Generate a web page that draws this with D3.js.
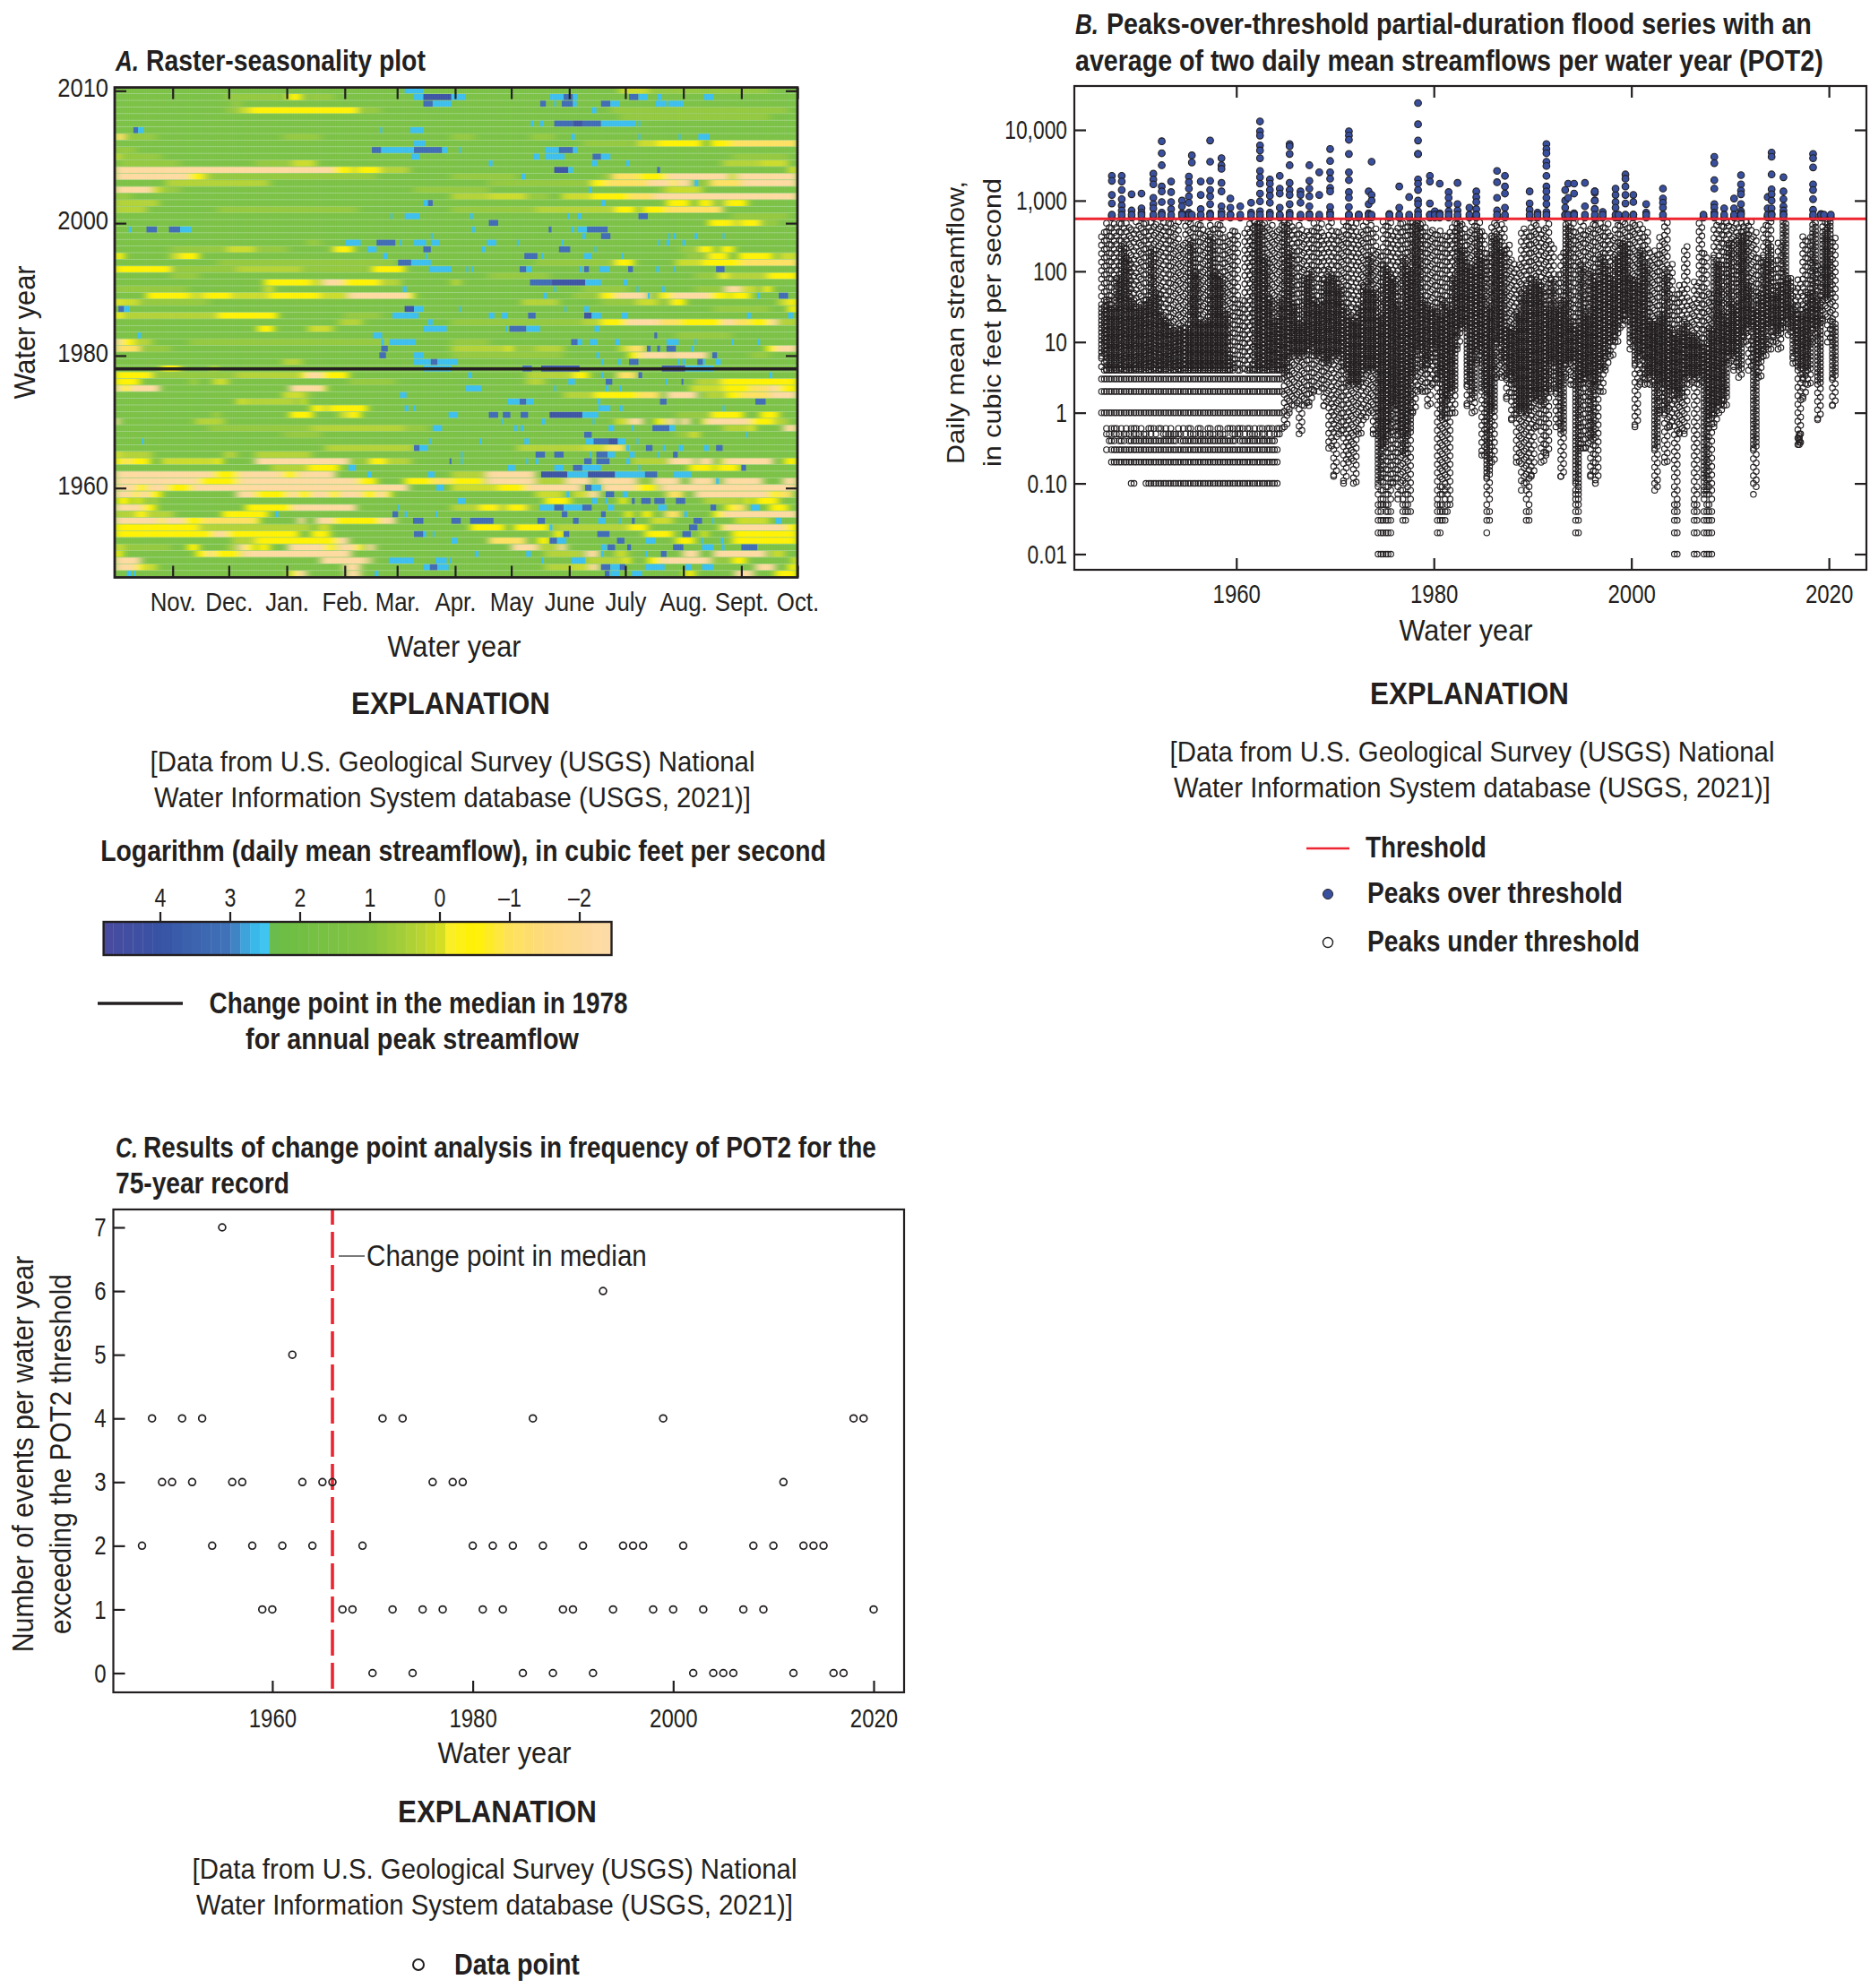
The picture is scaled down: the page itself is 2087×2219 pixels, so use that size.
<!DOCTYPE html>
<html><head><meta charset="utf-8">
<script src="https://cdn.jsdelivr.net/npm/d3@7/dist/d3.min.js"></script>
<style>html,body{margin:0;background:#fff}svg{display:block}</style></head>
<body><svg id="c" width="2087" height="2219"></svg>
<script>
// ---------- Panel A data: one string per water year, top row first. "start-end+level", in 5-day columns; unlisted = typical green
const rasterYears = d3.range(2020, 1946, -1);
const rasterRows = [
"31-33c 54-57n 57-70l",
"12-18l 18.5-20y 20.5-23.5l 32-33c 33-36d 36-37.5c 46.5-48c 48-49b 49-49.5c 55-56b 56-57c 58-58.5c 63-64c",
"12.5-13.5l 33-34b 34-36c 45.5-46.1b 47-47.2c 47.8-49b 49-49.4c 52-53b 53-54c 57.8-59c 59.2-60.8c",
"12-13.4l 13.4-14.5n 14.5-26y 26-28.4l 51-51.5c 53-72l",
"54-70l",
"44.5-44.8c 45.5-45.8c 47-49b 49-50d 50-52b 52-55.7c 56-56.2c",
"2-2.5b 2.5-3.1c 28.4-28.6c 31.6-33c",
"0-1.1o 1.1-4.5l 18-22l 36-38.5l 44.5-47l 48.8-49.2c 56-56.2c 60.3-60.5c 62.4-63.6c",
"32-33.2c 50-55.4l 55.8-58n 58-62.8y 63.7-66y 66-73o",
"0-2.3l 27.5-28.5b 28.5-32c 32-35b 35-35.6c 36.8-37c 46-47.5c 47.5-49b 49-49.5c",
"0-0.6n 0.6-5l 31.7-32.6c 44.8-45.4c 46-48.1c 51.1-52b 52-53c 66-72l",
"0.5-7l 15-19l 19-21.5n 40-40.4c 51-51.6c 54.7-55c 65-69m 69-72n",
"0-23.5p 23.5-25.3y 25.3-26n 26-28.4y 28.4-31.5m 47-48.5d 48.5-49c 58-58.3b 72-73n",
"0-8p 8-9.5y 9.5-10.2m 10.2-28l 36-43l 43.5-43.9c 52-53.2l 53.2-56o 56-59y 59-65.6p 65.6-66.5n 66.5-73p",
"5.5-16.5m 40-51l 51-52.5y 52.5-57o 57-59.5p 59.5-60y 60-61.7p 62-62.4c 62.4-63.7l 63.7-67o 67-73p",
"0-4p 4-5n 5-7l 32-40l 50.7-51c 58-59l 59-62.8n",
"0-1.8l 36-40m 40-44n 44-46.5l 47.8-51n 51-55y 55-57.6o 57.6-73p",
"0-4.7m 33-33.5c 33.5-34b 52-52.5c 59-61.5y 62.4-63.8y 63.8-65.2l 65.3-67.6y",
"0-3.4m 11-26l 36-45l 45-53.5m 53.5-55.7y 56.4-59y 59-65o",
"29.5-29.7c 31-32.6c 38-38.3c 48.4-48.6c 49.5-49.9c 56-57b 66-72l",
"40-41b 63.5-66y 66-67n 67-69y 69-71l",
"1.5-1.8c 3.4-4.5b 5.8-7b 7-8.2c 38.2-38.5c 46.4-46.7b 48.8-49.1c 49.5-50.5c 50.5-52.7b",
"33.8-34c 50-50.4c 52-53b 59.2-59.4c 59.7-60c 62-62.3c 65-65.2c",
"20.5-22l 24.7-26.3c 28-30b 30.5-30.7c 32-33.3c 33.8-34.7c 39.8-40.8c 43-43.2c 47.8-48c 58.1-58.3c 59-59.3c 60.7-61c",
"6-12l 12-15n 15-18.5l 23-23.5l 23.5-25.5y 27-28c 33-33.8b 39.2-39.6c 47.5-48.7b 51.3-51.5c 60.5-62.5l 62.5-64y 64.8-66.2y",
"0-1y 6-7n 7-9y 28.7-29.2c 33.2-33.4c 43.8-45.2b 45.6-45.8c 50.2-51c 54.2-54.4c 61-63.5l 63.5-65.6y 66.7-70.4y 71-73n",
"11-30l 30.3-31.7b 31.7-33.8c 45-53.5l 53.5-55.5y 60-62.8n 62.8-67y 67-73o",
"0-6y 6-13l 13-20m 20-27l 27.5-31y 33.6-36c 37.6-37.8c 38.2-38.4c 43.3-44b 44-44.6c 49.7-50c 50.2-50.7b 51.8-52.9c 54.9-55.4b 57.9-58.2c 59.7-59.9c 64.3-65.2b",
"6-9l 40-46.5l 62-64.7l 64.7-65.5y 65.5-69.8m 69.8-73y",
"16-21y 21-22.3n 22.3-24.4p 24.4-28.4y 28.4-30.6m 36-37m 44.4-46.7b 46.7-50.3d 50.3-52c 54.4-54.8c",
"0-7.8l 16-17n 30.8-31.2c 47-47.2c 50-55l 55.8-56c 58.5-58.8c 62-65.3l 65.3-67p 67-68.5n 68.5-69.5l 69.5-70.2y",
"3.4-8y 8-9.5n 9.5-10y 10-12.5y 12.5-16.5n 16.5-19.5y 19.5-22y 22-25n 25-31.4p 31.4-32y 45.8-46.2c 49-52l 52-53.6y 53.6-57p 57-57.2c 57.2-58.3l 58.3-59.6y 59.6-63.7p 63.7-65.6y 65.8-68y 68.7-69c 71-72b",
"0-0.5y 0.5-2.6n 2.6-10l 43.5-47.5m 52-55.8l 55.8-58n 58-59.5l 59.5-61y 71-72n 72-73y",
"0.4-1b 1-1.6c 31-32d 32-33c 36.8-37c 48.1-48.3c 50.2-50.7c 64-70l 72-73y",
"0-0.8y 0.8-11m 11-17.4y 24.5-28.5l 29.7-32.5c 40-40.6c 41.4-42c 44.2-45b 50.2-51d 51-52c 54.2-54.9c 67.6-68c 72-72.5c",
"24-26.5m 33.5-34c 36-50l 50-52m 52-54.6y 54.6-58.3p 58.3-60.5o 60.5-65y 65-66.2p 66.2-67.8o 67.8-70y 70-70.8p 70.8-73m",
"15.3-17y 20.7-23.3n 33-35.5c 41.8-42c 42.2-44b 44-45.5c 51.3-51.8c",
"2.4-2.8c 27.6-28.6c 57.7-58b 60-66l",
"0-0.8p 0.8-2.1y 2.1-4m 8-30l 28.5-28.8c 29.4-32.2c 36-40l 48.8-49.5b 49.5-50c 50.8-51.6c 53.5-54c 59-60.3c 62-62.2c 66-66.2c 68.7-69c",
"0-0.4p 0.4-2.7o 2.7-6l 28.5-29.2b 36-42m 42-42.4y 42.4-45l 45-48m 54-55n 55-56.7o 56.9-57.3b 58-58.3b 59-60b 61.6-61.9c 69.7-70.7y 70.7-73p",
"28.3-29b 32-33c 36-48l 51.5-51.8c 55-56.2y 56.2-59.4p 59.5-63.4p 63.9-64.4b 68-70l",
"18-20m 32-33.8c 33.8-34.5b 34.5-36.7c 52-52.3c 53.8-54.1c 55-56b 60.2-60.4c 60.7-61c 62.3-62.9b 62.9-63.1c 64.2-64.8c",
"5-7y 10.5-10.8y 33-36c 43.6-44.6b 45.6-49.7d 58.5-61d 61-64c",
"0-4y 4-13l 13-20m 20-20.5y 20.5-22.2p 22.2-25y 37.8-38.2c 44-49m 49-50.7y 52-52.3c 53.7-55.8o 56-56.4b 70-70.3c",
"0-2.7y 8.3-8.6n 10.5-12.1n 25-30l 44-46m 48.5-49.2c 52.5-53.2b 58.9-59.1c 60.6-60.8b 62-64.8m 64.8-73y",
"0-0.8p 0.8-1.6y 1.6-4.8p 18.7-22.3p 22.3-22.6y 37.5-39.2c 47-47.2c 52.5-52.8c 54-54.2c 61.5-65n 65-68y 68-70o 70-71p 71-73y",
"18-20.3n 20.3-21l 30.5-31.2c 48-51.3m 51.3-54.5y 54.5-56y 56-58.3o 59-62.3p 63-65m 65.3-67y 67-70o 70-73p",
"13-14n 14-19.5m 20-20.4y 42-43.3c 43.3-44b 44-44.8c 51.6-51.9c 58.3-59b 68.5-69.6b",
"21-22.2y 22.2-23n 23-27y 31-31.4c 32-32.2c 51.7-53c 54-54.3c 65-65.2c",
"10.7-11n 18.7-21.2y 24-25n 25-26.3y 35.7-36.7c 40-41b 41.5-42.3b 43.4-44.2b 46.5-50d 50-51.7c 60-63.8l 63.8-67.2y 69-71y",
"0-0.5p 8.6-11.7m 41.3-41.5c 45.6-46c 51.1-51.3c 53.5-55n 55-56.5p 57.8-58.8y 59-60p 60.5-61.5p 62.8-63.2y 63.2-68p 68-70.5y 70.5-72m",
"10-21l 21-31m 31-33.5l 34-35c 42.7-43c 43.4-43.7c 52.8-53.4c 55.3-55.5c 57.5-59.3b 59.3-59.9c 65-68m 68-68.4y 71.5-73p",
"18-22l 50.2-51b 60-61.5l 61.5-62.5n 67.5-67.7c",
"2.9-3.1c 33.6-33.8c 39-39.2c 43.8-44.3c 50.3-51.2c 51.2-52.8b 52.8-53.8d 53.8-54.6c 55.8-56c",
"22.5-32m 32-32.6b 32.6-33.5c 43-50m 50-52.5n 52.5-54.6o 54.7-55c 56.8-57.5b 58.6-58.9c 60.3-60.8c 63-63.5c 64.3-65b",
"0-0.4y 0.4-4m 11.7-13m 15-21m 37-37.2c 45-46b 47-48b 50.8-51c 51.5-52.7b 52.7-53.5c 55-55.6c 58-58.2c 59.7-60.2b",
"0-1y 1-1.7o 1.7-3.8y 5-11n 11-11.5y 15-25p 25-27.3l 27.3-29y 29-31.7m 35.8-36b 37-37.2c 44-44.2c 45-45.3c 50.2-51b 51.5-52.9b 54.7-55.1c 55.3-59.3m 59.3-62p 62.4-64p 64.8-65.2y 65.2-70.4p 71.6-73y",
"16.7-20.7m 20.7-24y 25-25.8c 42-42.8c 47-48c 49-50b 50-52c 56-56.2c 61.4-62y 62-64y 64.3-66.8y 67-67.5b",
"0-10.6p 10.6-13.2y 13.2-18p 18-19.5y 19.5-23.6p 27-27.4c 33.5-34.2c 36-39.7m 39.7-45p 45.6-48.4d 48.4-50.6c 50.6-53.5d 53.5-56.7c 56.7-58b 59.7-61.6c",
"0-9p 9-13.2y 13.2-16p 16-26p 26-28y 31-34y 34-36o 36-39.5y 39.7-45p 45-48.2m 48.2-51p 51.6-55.8p 55.8-57.7l 57.7-60.5p 61.5-64.2p 64.3-64.6c 65-69.3p 71.4-73p",
"0-2.3p 2.3-3.5y 3.5-5.6p 5.6-6.8y 6.8-8.3y 8.3-31.4p 34.4-35.2c 36-41n 41-44y 44-50p 50.3-51b 51-52c 52-55.8p 55.8-58y 58.3-73p",
"0-2p 2-2.6y 2.6-3.7p 3.7-5y 13-15p 15-18.5y 18.5-19.6p 19.6-21y 21-23p 23-24y 24-26.5p 26.5-28y 28-29p 29-29.6y 45-48n 48.3-48.6c 49-50.7n 50.7-51.8p 52.5-53.4b 54.3-54.9c 59-60.8o 62-70p 70-71y 71-72.5o",
"0.3-1.6y 2.1-2.6y 2.9-3.2y 3.9-4.5m 36.7-37.5c 46-48.7y 51-51.6c 52.4-52.7c 54-54.7y 55.3-55.6b 56.3-57.3b 57.7-58.8b 60-61b 63-67m 67.4-68y 68.5-71y",
"0-3p 3-4.4y 14-19y 19-25.8p 30.2-30.4c 36-39m 39-41y 41-42m 42-44y 44-45.4l 45.4-47c 47-48b 48-50c 50-51b 52.7-53.4c 58.1-59c 63.7-64.3b 65.3-66.3y 66.3-67.5o 68-69c 70-72y",
"0-2.3m 2.3-3.4y 3.4-6.3m 11.5-16.4y 17.2-17.5c 29.7-30.3b 31-31.3c 34.3-34.5c 47.8-48.4b 52-52.5b 54.6-55.3y 56.4-57.4y 58.8-60.5o 60.9-61.2c 64-65y 65-73p",
"0-4.8p 4.8-5.3y 5.3-7.5p 7.5-9.4y 9.4-15o 15-15.5y 19.6-20.3p 21.5-23.4p 23.4-28.4y 28.4-30p 31.9-33b 36-37b 38-40.5b 45.2-46b 49-49.6b 51.7-52.5c 53.9-54.1c 55.3-55.6b 57.3-59.7n 61.9-62.8b 63.9-64.1c 66.3-70n 70.7-71.3c",
"0-9y 9-21m 21.7-23n 38-41.7y 42.7-46.4y 46.5-46.8c 47-55m 55-57y 61.4-62.3b 64.7-65.2y 65.2-71.7p 71.7-73y",
"0-10.6y 10.6-12p 12-19.7y 21-23y 32-33b 33-33.3c 34-34.2c 47-48y 48-48.6b 51.6-52.9b 56.7-59.7y 60.7-61.6b 62.8-63.3y 66-73y",
"12.6-15m 15-23.8y 23.8-25p 36-36.6c 40-44o 45.2-46.5y 46.5-47.3b 47.3-48.3c 53.7-54.5b 56.8-57.8c 60-62y 62.7-62.9c 64.8-65.1c 66-73y",
"0-1n 1-6l 7.8-9y 12.2-13m 13.2-14p 14-15y 15.3-16.6y 18.5-22.5p 22.5-23.7y 23.8-25.8p 25.8-26.6y 27-27.8p 42.4-45.2p 45.2-47.5m 47.5-48.3p 52-52.6c 52.7-53.5b 54.8-55.2b 59.7-60.8b 62.8-64c 64.9-65.2c 67-68.7b",
"0-0.8y 8.7-10y 10-10.6p 10.6-13.5y 13.6-25.3p 38.5-38.9c 44-44.5c 46-50m 50.3-51.8p 52-52.3c 53.5-54.8n 56.7-57c 58.4-59b 60.7-62.5p 64-69.7p 70.2-71.6n",
"0-2.8p 22-27p 27.2-27.5p 29.3-32c 34.3-35.5c 35.8-36c 45.6-45.8c 48.8-50.3c 50.3-54.5m 54.5-55.1y 57-58.3y 58.3-63.7p 63.7-65.5l 66-67.5y 72.5-73y",
"0-2.3p 2.3-3y 3-4.5n 24.5-26.3p 33-33.7c 33.7-34.5b 34.5-35.7c 46-49m 49-50.8n 50.8-51.8p 52-53b 53-54c 54-54.6b 56.7-58.8c 61-61.7c 62.8-64c 68.5-70.6p 72-73y",
"1.3-1.8c 2-2.2c 18.7-19.5y 19.5-20.5p 24.7-26.3p 27.8-28.2c 52.4-52.9b 53-54c 55.3-56.4c 61-62y 66.3-68.3p 70.6-73y"
];
const rasterLevelLog = {d:4.1,b:3.3,c:2.6,g:1.6,l:0.8,m:0.35,n:0.08,y:-0.5,o:-1.1,p:-2.2};
const monthNames = ["Nov.","Dec.","Jan.","Feb.","Mar.","Apr.","May","June","July","Aug.","Sept.","Oct."];
const monthDays = [31,61,92,123,151,182,212,243,273,304,335,365];
const rasterTickYears = [2020,2000,1980,1960];
const rasterTickLabels = ["2010","2000","1980","1960"];
const colorStops = [4.83,4.0,3.0,2.75,2.55,2.37,2.36,1.0,0.3,-0.05,-0.06,-0.5,-1.0,-1.5,-2.45];
const colorValues = ["#4a4a9e","#3853a4","#3f74b9","#3fa9e0","#38c5f2","#55c6ea","#6bbd45","#85c441","#b5d334","#d7df23","#f9ed32","#fff200","#fde25a","#fdd97f","#fddbaa"];
const legendTicks = [4,3,2,1,0,-1,-2];

// ---------- Panel B data: half-year columns from 1946.5 = [lowest, dense low, dense high, highest] log10 flow, below threshold
const potStartYear = 1946.5;
const potEnvelope = [
[0,.8,1.5,2.6],[-.5,.5,1.6,2.7],[-.7,.5,1.5,2.7],[-.7,.5,1.9,2.7],[-.7,.4,2.4,2.7],[-.7,.5,2.2,2.7],[-1,.5,1.6,2.6],[-.7,.4,1.5,2.7],[-.7,.4,1.5,2.7],
[-1,.3,1.6,2.7],[-1,.2,2.3,2.7],[-1,.3,1.7,2.7],[-1,.4,1.4,2.7],[-1,.4,1.3,2.7],[-1,.3,1.2,2.7],[-1,.2,1.2,2.7],[-1,.1,1.2,2.4],[-1,.3,1.2,2.7],
[-1,.3,2.4,2.7],[-1,.3,2,2.7],[-1,.3,1.3,2.7],[-1,.3,1.3,2.6],[-1,.3,2.5,2.7],[-1,.3,2,2.7],[-1,.3,1.9,2.7],[-1,.3,1.4,2.5],[-1,.5,.8,2.6],
[-1,.2,.4,2.6],[-1,.2,.3,1.6],[-1,.3,.5,2.6],[-1,.3,.6,2.7],[-1,.4,2.7,2.7],[-1,.5,2.7,2.7],[-1,.3,2.2,2.7],[-1,.2,1.6,2.7],[-1,.2,1.3,2.6],
[-.3,.5,1.6,2.7],[-.2,.5,2.7,2.7],[0,.8,2.3,2.7],[.1,.8,1.5,2.6],[-.3,.8,1.3,2.7],[.1,.8,1.9,2.6],[.1,.9,2,2.6],[.3,.8,1.6,2.7],[.3,.8,1.5,2.7],
[.1,.7,1.9,2.5],[-.5,.7,2,2.7],[-.9,.8,1.9,2.6],[-.3,.8,1.8,2.6],
[-1,.6,1.5,2.7],[-.7,.4,1.4,2.7],[-1,.4,1.3,2.7],[-.3,.4,1.5,2.6],[-.1,.6,1.8,2.7],[0,.6,2.2,2.7],[-.3,.6,1.7,2.6],[-2,-1,1.4,2.3],[-2,-.5,2.1,2.7],
[-2,-.3,2,2.7],[-1,.1,1.9,2.6],[-1.2,-.3,1.5,2.7],[-1.5,-.6,2.2,2.7],[-1.4,-.3,2,2.7],[0,.5,2.7,2.7],[.3,.9,2.7,2.7],[.3,.6,1.6,2.7],[.1,.7,1.5,2.6],
[.4,.9,1.5,2.6],[-1.7,.5,1.4,2.6],[-1.6,-.1,1.6,2.5],[-1.4,.2,1.5,2.6],[0,.3,1.9,2.7],[.9,1.1,2.7,2.7],[1.2,1.2,2.3,2.7],[.1,.4,2.1,2.6],[0,.2,2.1,2.7],
[.7,.9,2.6,2.7],[-.6,.3,2.2,2.6],[-1.7,-.9,1.5,2.3],[-.7,0,2.5,2.7],[.5,1,2.5,2.7],[.5,.7,2.3,2.7],[.2,.5,1.2,2.4],[-.1,.4,1.2,2.2],[-.7,0,1.4,2.1],
[-1.1,0,1.7,2.6],[-1.6,0,1.8,2.6],[-.9,.2,1.9,2.7],[-.2,.2,1.9,2.7],[-.7,.1,1.8,2.6],[-.6,.3,1.5,2.7],[.3,.7,1.9,2.4],[-.2,.3,1.5,2],[-.9,-.3,1.6,2.3],
[.5,.7,2.7,2.7],[.4,.7,1.3,2.7],[-1.7,-1.3,1.2,2.6],[-.5,.4,2.1,2.7],[-.5,.5,1.4,2.6],[-.9,-.4,2,2.7],[-1,.4,1.9,2.7],[.3,.6,2.2,2.7],[.6,.8,2.1,2.7],
[.8,1,1.9,2.5],[1,1.1,2.2,2.7],[1.2,1.3,2.4,2.7],[1.3,1.4,2.4,2.7],[.9,1,1.9,2.7],[-.2,.7,1.9,2.7],[.4,.8,2.3,2.7],[.4,.5,2.1,2.6],[.4,.5,1.3,2.3],
[-1.1,-.5,1.3,2.3],[0,.4,1.4,2.5],[-.7,0,2,2.7],[-.2,.3,1.2,2.1],[-2,.2,1.1,1.7],[-.3,.2,1.2,1.8],[-.3,.5,1.3,2.4],[.4,.5,1.1,1.6],[-2,.5,1.1,1.9],
[.4,.5,1,2.7],[-2,-1.2,.9,2.3],[-2,-.1,1.2,1.7],[-.2,0,2.2,2.7],[0,.1,2.1,2.7],[.1,.2,1.4,2.7],[.7,.8,2.4,2.7],[.6,.8,1.5,2.7],[.5,.6,2.5,2.7],
[1,1.1,2.6,2.7],[.6,1.2,1.8,2.7],[-1.15,-.5,1.5,2.6],[.5,.7,1.7,2.2],[.8,.9,2.2,2.7],[.9,1.2,2.4,2.7],[1,1.1,1.7,2.2],[.9,1.1,1.8,2.4],[1.2,1.3,2.7,2.7],
[1.1,1.2,1.9,1.9],[.7,.8,1.5,1.8],[-.45,.6,1.4,1.9],[.2,.5,1.5,2.5],[.4,.6,1.7,2.5],[1,1.2,2.7,2.7],[-.1,.4,1.6,2.1],[1.3,1.6,2.6,2.7],[1,1.6,2.7,2.7],[.1,.5,1.3,2.5]
];
const potLowCluster = [[2017,-.3],[2017,-.33],[2017,-.36],[2017,-.39],[2017,-.42],[2017,-.45]];
const peakYears = [1947.4,1948.4,1949.4,1950.4,1951.6,1952.45,1953.4,1954.5,1955.2,1955.5,1956.4,1957.35,1958.5,1959.4,1960.4,1961.5,1962.4,1963.4,1964.4,1965.4,1966.5,1967.4,1968.4,1969.5,1971.4,1972.4,1973.4,1973.7,1975.5,1976.5,1977.5,1978.4,1979.6,1980.1,1980.6,1981.5,1982.4,1983.6,1984.3,1986.4,1987.2,1989.7,1990.5,1991.4,1993.3,1993.6,1994.2,1995.3,1996.3,1997.1,1998.4,1998.7,1999.4,2000.2,2001.5,2003.2,2007.3,2008.4,2009.4,2010.4,2011.1,2013.8,2014.2,2015.4,2018.4,2019.2,2019.5,2020.2];
const peakLogs = [
[3.35,3.28,3.08,2.96,2.79],[3.35,3.27,3.15,3.02,2.93,2.86],[3.09,2.86],[3.1,2.89,2.83],[3.38,3.3,3.23,3.04,2.95,2.89],[3.84,3.67,3.5,3.2,3.13,2.98,2.83],[3.27,3.12,2.98,2.88],[3,2.92,2.82],[3.34,3.26,3.17,3.06,2.97,2.83],[3.64,3.54],[3.27,3.08,2.88],[3.85,3.55,3.28,3.15,3.06,2.95,2.82],[3.6,3.5,3.45,3.25,3.13,2.92,2.84],[3.03,2.9,2.8],[2.92],[2.97,2.83],[4.12,3.98,3.92,3.78,3.71,3.6,3.42,3.33,3.24,3.1,2.99,2.85],[3.3,3.24,3.15,3.07,2.97,2.83],[3.35,3.17,3.1,2.9,2.79],[3.8,3.77,3.66,3.5,3.25,3.15,3.08,2.95,2.83],[3.13,3.08,2.97],[3.5,3.28,3.17,3.06,2.92,2.81],[3.4,3.08],[3.73,3.56,3.4,3.31,3.18,3.13,2.91,2.83],[3.98,3.92,3.86,3.66,3.4,3.29,3.12,3.04,2.91,2.8],
[2.8],[3.13,2.95,2.82],[3.55,3.08,3],[2.81],[3.2,2.9],[3.05],[4.38,4.08,3.85,3.66,3.66,3.3,3.24,3.15,3,2.95,2.85],[3.35,3.27,2.96,2.8],[2.85],[3.24,2.82],[3.12,3.04,2.95,2.85],[3.25,2.95,2.86],[2.9],[3.13,3.05,2.98,2.88,2.8],[3.42,3.26,3.04,2.86],[3.35,3.2,3.1,2.9],[3.13,2.96,2.87],[2.83],[3.8,3.73,3.67,3.55,3.49,3.35,3.2,3.13,3.04,2.95,2.84],[3.15,3,2.9,2.8],[3.24,3.04],[3.24,3.1,2.82],[3.25,2.92],[3.13,3.11,3,2.88,2.75,3.13,3,2.88],[2.84],[3.08,3.17,2.98,2.9,2.76],[2.76],[3.37,3.31,3.2,3.08,2.96],[3.08,2.98,2.8],[2.95,2.83],[3.17,3.03,2.97,2.9],[2.77],[3.62,3.53,3.29,3.17,2.95,2.9,2.83],[2.89],[3.03,2.89,2.78],[3.36,3.23,3.14,3.09,2.95,2.85,2.82],[3.05,2.89,2.78],[3.68,3.62,3.37,3.16,3.09,3,2.89,2.81],[3.33,3.13,3.02,2.92,2.86,2.81],[3.66,3.6,3.47,3.23,3.15,3.02,2.87],[2.81]
];
const nearThresholdLogs = [2.76,2.8];
const thresholdFlow = 551;
const potYTicks = [10000,1000,100,10,1,0.1,0.01];
const potYTickLabels = ["10,000","1,000","100","10","1","0.10","0.01"];

// ---------- Panel C data: POT2 events per water year, from 1947
const eventStartYear = 1947;
const eventCounts = [2,4,3,3,4,3,4,2,7,3,3,2,1,1,2,5,3,2,3,3,1,1,2,0,4,1,4,0,1,3,1,3,3,2,1,2,1,2,0,4,2,0,1,1,2,0,6,1,2,2,2,1,4,1,2,0,1,0,0,0,1,2,1,2,3,0,2,2,2,0,0,4,4,1];
const changePointYear = 1966;
const changePointRasterYear = 1978;
const yearTicks = [1960,1980,2000,2020];

// ---------- helpers
const NARROW = "'Liberation Sans Narrow','Arial Narrow','Liberation Sans',sans-serif";
const WIDE = "'Liberation Sans',Arial,sans-serif";
const INK = "#231f20";
const svg = d3.select("#c");
function label(x,y,s,o={}){
  const t = svg.append("text").attr("x",0).attr("y",0).text(s)
    .attr("font-family",o.family||NARROW).attr("font-size",o.size||32)
    .attr("font-weight",o.bold?700:400).attr("font-style",o.italic?"italic":"normal")
    .attr("text-anchor",o.anchor||"start").attr("fill",INK);
  const sx = o.width ? o.width/t.node().getComputedTextLength() : 1;
  t.attr("transform",`translate(${x},${y})`+(o.rotate?` rotate(${o.rotate})`:"")+` scale(${sx},1)`);
  return t;
}
function styleAxis(g,size=30,squeeze=.8,dy=0){
  g.select(".domain").remove();
  g.selectAll(".tick line").attr("stroke",INK).attr("stroke-width",2.2);
  g.selectAll(".tick text").attr("font-family",NARROW).attr("font-size",size).attr("fill",INK)
    .each(function(){ const n=this.getComputedTextLength(); if(n>0){ d3.select(this).attr("textLength",n*squeeze).attr("lengthAdjust","spacingAndGlyphs"); } })
    .attr("transform",`translate(0,${dy})`);
}
const colorOf = d3.scaleLinear().domain(colorStops).range(colorValues).clamp(true);

// ---------- Panel A
const A = {l:128,r:890,t:97.6,b:644.5};
const dayX = d3.scaleLinear().domain([0,365]).range([A.l,A.r]);
const rowY = d3.scaleBand().domain(rasterYears).range([A.t,A.b]);
const defs = svg.append("defs");
defs.append("clipPath").attr("id","clipA").append("rect").attr("x",A.l).attr("y",A.t).attr("width",A.r-A.l).attr("height",A.b-A.t);
defs.append("filter").attr("id","soft").attr("filterUnits","userSpaceOnUse").attr("x",A.l-30).attr("y",A.t-10).attr("width",A.r-A.l+60).attr("height",A.b-A.t+20)
  .append("feGaussianBlur").attr("stdDeviation","4 0");
const gA = svg.append("g").attr("clip-path","url(#clipA)");
gA.append("rect").attr("x",A.l).attr("y",A.t).attr("width",A.r-A.l).attr("height",A.b-A.t).attr("fill","#96ce7a");
gA.selectAll("rect.row").data(rasterYears).join("rect").attr("class","row")
  .attr("x",A.l).attr("width",A.r-A.l).attr("y",d=>rowY(d)).attr("height",rowY.bandwidth()-.7)
  .attr("fill",colorOf(rasterLevelLog.g));
const segs = [];
rasterRows.forEach((s,i)=>s.split(" ").forEach(p=>{
  const m = p.match(/^([\d.]+)-([\d.]+)([a-z])$/);
  if(m) segs.push({year:rasterYears[i],d0:+m[1]*5,d1:+m[2]*5,level:m[3]});
}));
const isBlue = d=>"dbc".includes(d.level);
const drawSegs = (g,data)=>g.selectAll("rect").data(data).join("rect")
  .attr("x",d=>dayX(d.d0)).attr("width",d=>dayX(d.d1)-dayX(d.d0))
  .attr("y",d=>rowY(d.year)).attr("height",rowY.bandwidth()-.7)
  .attr("fill",d=>colorOf(rasterLevelLog[d.level]));
drawSegs(gA.append("g").attr("filter","url(#soft)"),segs.filter(d=>!isBlue(d)));
drawSegs(gA.append("g"),segs.filter(isBlue));
gA.append("g").selectAll("rect").data(rasterYears).join("rect")
  .attr("x",A.l).attr("width",A.r-A.l).attr("y",d=>rowY(d)+rowY.bandwidth()-.7).attr("height",.7)
  .attr("fill","#fff").attr("fill-opacity",.18);
gA.selectAll("line.day").data(d3.range(1,365)).join("line").attr("class","day")
  .attr("x1",d=>dayX(d)).attr("x2",d=>dayX(d)).attr("y1",A.t).attr("y2",A.b)
  .attr("stroke","#fff").attr("stroke-opacity",.09).attr("stroke-width",.7);
const rowTickY = d3.scalePoint().domain(rasterYears).range([A.t+rowY.bandwidth()/2,A.b-rowY.bandwidth()/2]);
const ax = (g,axis,o={})=>{ g.call(axis); styleAxis(g,o.size,o.squeeze,o.dy); return g; };
ax(svg.append("g").attr("transform",`translate(0,${A.b})`),
   d3.axisBottom(dayX).tickValues(monthDays).tickSizeInner(-13).tickSizeOuter(0).tickPadding(16).tickFormat((d,i)=>monthNames[i]),{squeeze:.86});
ax(svg.append("g").attr("transform",`translate(0,${A.t})`),
   d3.axisTop(dayX).tickValues(monthDays).tickSizeInner(-13).tickSizeOuter(0).tickFormat(""));
ax(svg.append("g").attr("transform",`translate(${A.l},0)`),
   d3.axisLeft(rowTickY).tickValues(rasterTickYears).tickSizeInner(-13).tickSizeOuter(0).tickPadding(7).tickFormat((d,i)=>rasterTickLabels[i]),{dy:-3,squeeze:.85});
ax(svg.append("g").attr("transform",`translate(${A.r},0)`),
   d3.axisRight(rowTickY).tickValues(rasterTickYears).tickSizeInner(-13).tickSizeOuter(0).tickFormat(""));
svg.append("line").attr("x1",A.l).attr("x2",A.r).attr("y1",rowTickY(changePointRasterYear)).attr("y2",rowTickY(changePointRasterYear)).attr("stroke",INK).attr("stroke-width",3.6);
svg.append("rect").attr("x",A.l).attr("y",A.t).attr("width",A.r-A.l).attr("height",A.b-A.t).attr("fill","none").attr("stroke",INK).attr("stroke-width",2.8);

label(129,79,"A.",{bold:true,italic:true,size:32,family:WIDE,width:26});
label(163,79,"Raster-seasonality plot",{bold:true,size:33,width:312});
label(39,371,"Water year",{rotate:-90,anchor:"middle",size:34,width:149});
label(507,733,"Water year",{anchor:"middle",size:34,width:149});
label(503,797,"EXPLANATION",{anchor:"middle",bold:true,size:35,width:222});
label(505,861,"[Data from U.S. Geological Survey (USGS) National",{anchor:"middle",width:675});
label(505,901,"Water Information System database (USGS, 2021)]",{anchor:"middle",width:666});
label(517,961,"Logarithm (daily mean streamflow), in cubic feet per second",{anchor:"middle",bold:true,size:33,width:810});

// colour bar legend
const legX = d3.scaleLinear().domain([4,-2]).range([178.5,646.5]);
const B0 = {l:115.6,r:682.5,t:1029,b:1066};
const cellEdges = d3.range(53).map(i=>B0.l+(B0.r-B0.l)*i/52);
svg.append("g").selectAll("rect").data(d3.range(52)).join("rect")
  .attr("x",i=>cellEdges[i]).attr("width",i=>cellEdges[i+1]-cellEdges[i]+.3)
  .attr("y",B0.t).attr("height",B0.b-B0.t)
  .attr("fill",i=>colorOf(legX.invert((cellEdges[i]+cellEdges[i+1])/2)));
ax(svg.append("g").attr("transform",`translate(0,${B0.t})`),
   d3.axisTop(legX).tickValues(legendTicks).tickSizeInner(11).tickSizeOuter(0).tickPadding(6).tickFormat(d=>d<0?"–"+(-d):d),{size:29});
svg.append("rect").attr("x",B0.l).attr("y",B0.t).attr("width",B0.r-B0.l).attr("height",B0.b-B0.t).attr("fill","none").attr("stroke",INK).attr("stroke-width",2.4);
svg.append("line").attr("x1",109).attr("x2",204).attr("y1",1120).attr("y2",1120).attr("stroke",INK).attr("stroke-width",3.4);
label(467,1131,"Change point in the median in 1978",{anchor:"middle",bold:true,size:33,width:467});
label(460,1171,"for annual peak streamflow",{anchor:"middle",bold:true,size:33,width:372});

// ---------- Panel B
const P = {l:1199,r:2083,t:96,b:636};
const potX = d3.scaleLinear().domain([1943.6,2023.8]).range([P.l,P.r]);
const potY = d3.scaleLog().domain([10000,0.01]).range([145,618.5]);
const potPoints = [], seen = new Set();
function snap(year,log){
  let v = Math.pow(10,log);
  if(v<0.1) v = Math.max(0.01,Math.round(v*100)/100);
  else if(year<1965 && v<1){ v = Math.round(v*10)/10; if(v>0.6) v = 1; }
  else if(year<1965 && v<4) v = Math.round(v);
  return v;
}
potEnvelope.forEach((c,i)=>{
  const year = potStartYear+i*.5, [sl,dl,dh,sh]=c;
  const add=(lg,k)=>{
    const yr = year+(k%2?.14:-.14), v = snap(year,lg), key=yr+"|"+v;
    if(v<thresholdFlow && !seen.has(key)){ seen.add(key); potPoints.push({year:yr,flow:v}); }
  };
  d3.range(dl,dh+.001,.028).forEach((lg,k)=>add(lg,k));
  const off = i%2?0:.03;
  d3.range(dh+off,sh+.001,.06).forEach((lg,k)=>add(lg,k));
  d3.range(dl-off,sl-.001,-.06).forEach((lg,k)=>add(lg,k));
  add(sl,0);
});
potLowCluster.forEach(d=>potPoints.push({year:d[0],flow:Math.pow(10,d[1])}));
const gB = svg.append("g");
gB.selectAll("circle.u").data(potPoints).join("circle").attr("class","u")
  .attr("cx",d=>potX(d.year)).attr("cy",d=>potY(d.flow)).attr("r",3.2)
  .attr("fill","none").attr("stroke",INK).attr("stroke-width",1.15);
const peaks = peakYears.flatMap((y,i)=>(peakLogs[i]||[]).concat(nearThresholdLogs).map(l=>({year:y,flow:Math.pow(10,l)})));
gB.selectAll("circle.p").data(peaks).join("circle").attr("class","p")
  .attr("cx",d=>potX(d.year)).attr("cy",d=>potY(d.flow)).attr("r",3.8)
  .attr("fill","#39509f").attr("stroke",INK).attr("stroke-width",1.1);
svg.append("line").attr("x1",P.l).attr("x2",P.r).attr("y1",potY(thresholdFlow)).attr("y2",potY(thresholdFlow)).attr("stroke","#ed2530").attr("stroke-width",3);
ax(svg.append("g").attr("transform",`translate(0,${P.b})`),
   d3.axisBottom(potX).tickValues(yearTicks).tickSizeInner(-13).tickSizeOuter(0).tickPadding(16).tickFormat(d3.format("d")));
ax(svg.append("g").attr("transform",`translate(0,${P.t})`),
   d3.axisTop(potX).tickValues(yearTicks).tickSizeInner(-13).tickSizeOuter(0).tickFormat(""));
ax(svg.append("g").attr("transform",`translate(${P.l},0)`),
   d3.axisLeft(potY).tickValues(potYTicks).tickSizeInner(-13).tickSizeOuter(0).tickPadding(8).tickFormat((d,i)=>potYTickLabels[i]),{squeeze:.76});
ax(svg.append("g").attr("transform",`translate(${P.r},0)`),
   d3.axisRight(potY).tickValues(potYTicks).tickSizeInner(-13).tickSizeOuter(0).tickFormat(""));
svg.append("rect").attr("x",P.l).attr("y",P.t).attr("width",P.r-P.l).attr("height",P.b-P.t).attr("fill","none").attr("stroke",INK).attr("stroke-width",2.2);

label(1200,38,"B.",{bold:true,italic:true,size:32,family:WIDE,width:26});
label(1235,38,"Peaks-over-threshold partial-duration flood series with an",{bold:true,size:33,width:787});
label(1200,79,"average of two daily mean streamflows per water year (POT2)",{bold:true,size:33,width:835});
label(1076,360,"Daily mean streamflow,",{rotate:-90,anchor:"middle",family:WIDE,size:27,width:316});
label(1117,360,"in cubic feet per second",{rotate:-90,anchor:"middle",family:WIDE,size:27,width:322});
label(1636,715,"Water year",{anchor:"middle",size:34,width:149});
label(1640,786,"EXPLANATION",{anchor:"middle",bold:true,size:35,width:222});
label(1643,850,"[Data from U.S. Geological Survey (USGS) National",{anchor:"middle",width:675});
label(1643,890,"Water Information System database (USGS, 2021)]",{anchor:"middle",width:666});
svg.append("line").attr("x1",1458).attr("x2",1506).attr("y1",947).attr("y2",947).attr("stroke","#ed2530").attr("stroke-width",2.6);
label(1524,957,"Threshold",{bold:true,size:33,width:135});
svg.append("circle").attr("cx",1482).attr("cy",998).attr("r",5.5).attr("fill","#39509f").attr("stroke",INK).attr("stroke-width",1);
label(1526,1008,"Peaks over threshold",{bold:true,size:33,width:285});
svg.append("circle").attr("cx",1482).attr("cy",1052).attr("r",5.5).attr("fill","none").attr("stroke",INK).attr("stroke-width",1.4);
label(1526,1062,"Peaks under threshold",{bold:true,size:33,width:304});

// ---------- Panel C
const C = {l:126.5,r:1009,t:1350,b:1889};
const evX = d3.scaleLinear().domain([1947,2020]).range([158.5,975]);
const evY = d3.scaleLinear().domain([0,7]).range([1867.5,1370]);
ax(svg.append("g").attr("transform",`translate(0,${C.b})`),
   d3.axisBottom(evX).tickValues(yearTicks).tickSizeInner(-13).tickSizeOuter(0).tickPadding(18).tickFormat(d3.format("d")));
ax(svg.append("g").attr("transform",`translate(${C.l},0)`),
   d3.axisLeft(evY).tickValues(d3.range(8)).tickSizeInner(-13).tickSizeOuter(0).tickPadding(8).tickFormat(d3.format("d")));
svg.append("line").attr("x1",evX(changePointYear)).attr("x2",evX(changePointYear)).attr("y1",C.t).attr("y2",C.b)
  .attr("stroke","#ed2530").attr("stroke-width",3.6).attr("stroke-dasharray","29 8").attr("stroke-dashoffset",12);
svg.append("g").selectAll("circle").data(eventCounts).join("circle")
  .attr("cx",(d,i)=>evX(eventStartYear+i)).attr("cy",d=>evY(d)).attr("r",3.9)
  .attr("fill","none").attr("stroke",INK).attr("stroke-width",1.7);
svg.append("rect").attr("x",C.l).attr("y",C.t).attr("width",C.r-C.l).attr("height",C.b-C.t).attr("fill","none").attr("stroke",INK).attr("stroke-width",2.2);
svg.append("line").attr("x1",378).attr("x2",407).attr("y1",1402).attr("y2",1402).attr("stroke",INK).attr("stroke-width",1.2);
label(409,1413,"Change point in median",{size:34,width:313});
label(129,1292,"C.",{bold:true,italic:true,size:32,family:WIDE,width:25});
label(160,1292,"Results of change point analysis in frequency of POT2 for the",{bold:true,size:33,width:818});
label(129,1332,"75-year record",{bold:true,size:33,width:194});
label(37,1623,"Number of events per water year",{rotate:-90,anchor:"middle",size:33,width:443});
label(79,1623,"exceeding the POT2 threshold",{rotate:-90,anchor:"middle",size:33,width:402});
label(563,1968,"Water year",{anchor:"middle",size:34,width:149});
label(555,2034,"EXPLANATION",{anchor:"middle",bold:true,size:35,width:222});
label(552,2097,"[Data from U.S. Geological Survey (USGS) National",{anchor:"middle",width:675});
label(552,2137,"Water Information System database (USGS, 2021)]",{anchor:"middle",width:666});
svg.append("circle").attr("cx",467).attr("cy",2193).attr("r",6).attr("fill","none").attr("stroke",INK).attr("stroke-width",2);
label(507,2204,"Data point",{bold:true,size:33,width:140});
</script></body></html>
